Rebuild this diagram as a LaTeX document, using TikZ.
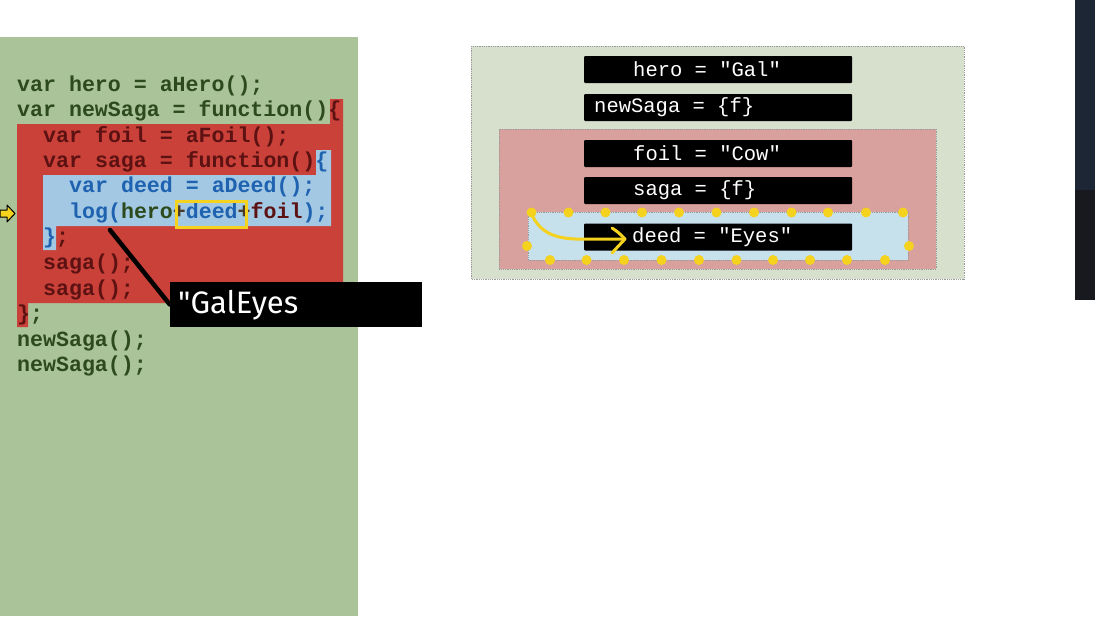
\documentclass[tikz,border=0pt]{standalone}
\usepackage{fontspec}
\setmonofont{Liberation Mono}
\newfontfamily\handfont{Fira Sans}
\definecolor{panelgreen}{HTML}{AAC398}
\definecolor{scopered}{HTML}{CA4139}
\definecolor{scopeblue}{HTML}{A2C8E4}
\definecolor{txtgreen}{HTML}{2C4A1C}
\definecolor{txtred}{HTML}{5C1212}
\definecolor{txtblue}{HTML}{1E62B0}
\definecolor{txtplus}{HTML}{4A3A28}
\definecolor{memgreen}{HTML}{D6E0CC}
\definecolor{mempink}{HTML}{D9A19D}
\definecolor{memblue}{HTML}{C6E0EC}
\definecolor{hilite}{HTML}{F4D21E}
\definecolor{frame}{HTML}{9A9A9A}
\definecolor{sidedark}{HTML}{1C2634}
\definecolor{sidedarker}{HTML}{17191F}
\newcommand\codefont{\fontsize{21.6}{24}\selectfont\ttfamily\bfseries}
\newcommand\barfont{\fontsize{20.5}{24}\selectfont\ttfamily}
\tikzset{
  codeline/.style={anchor=west, inner sep=0pt, font=\codefont},
  membar/.style={fill=black, rounded corners=1pt, minimum width=268pt, minimum height=27pt, inner sep=0pt},
  bartext/.style={anchor=west, inner sep=0pt, text=white, font=\barfont},
  memframe/.style={draw=frame, densely dotted, line width=0.8pt},
  handle/.style={fill=hilite, circle, inner sep=0pt, minimum size=10pt},
}
\begin{document}
\begin{tikzpicture}[x=1pt, y=-1pt]
\useasboundingbox (0,0) rectangle (1095,616);
\fill[white] (0,0) rectangle (1095,616);

% code panel
\fill[panelgreen] (0,37) rectangle (358,616);
% outer function scope (newSaga)
\fill[scopered] (330,99) -- (343,99) -- (343,303) -- (28,303) -- (28,327)
  -- (17,327) -- (17,124) -- (330,124) -- cycle;
% inner function scope (saga)
\fill[scopeblue] (316,150) -- (331,150) -- (331,226) -- (56,226) -- (56,250)
  -- (43,250) -- (43,175) -- (316,175) -- cycle;

% source code
\node[codeline] (l1) at (17,86) {\textcolor{txtgreen}{var hero = aHero();}};
\node[codeline] (l2) at (17,111) {\textcolor{txtgreen}{var newSaga = function()}\textcolor{txtred}{\{}};
\node[codeline] (l3) at (43,137) {\textcolor{txtred}{var foil = aFoil();}};
\node[codeline] (l4) at (43,162) {\textcolor{txtred}{var saga = function()}\textcolor{txtblue}{\{}};
\node[codeline] (l5) at (69,187) {\textcolor{txtblue}{var deed = aDeed();}};
\node[codeline] (l6) at (69,213) {\textcolor{txtblue}{log(}\textcolor{txtgreen}{hero}\textcolor{txtplus}{+}\textcolor{txtblue}{deed}\textcolor{txtplus}{+}\textcolor{txtred}{foil}\textcolor{txtblue}{);}};
\node[codeline] (l7) at (43,238) {\textcolor{txtblue}{\}}\textcolor{txtred}{;}};
\node[codeline] (l8) at (43,264) {\textcolor{txtred}{saga();}};
\node[codeline] (l9) at (43,290) {\textcolor{txtred}{saga();}};
\node[codeline] (l10) at (17,315) {\textcolor{txtred}{\}}\textcolor{txtgreen}{;}};
\node[codeline] (l11) at (17,341) {\textcolor{txtgreen}{newSaga();}};
\node[codeline] (l12) at (17,366) {\textcolor{txtgreen}{newSaga();}};

% highlight around the looked-up name
\draw[hilite, line width=3pt] (176,201) rectangle (246,227);

% current line marker
\filldraw[fill=hilite, draw=black, line width=1pt, line join=round]
  (0,210) -- (7,210) -- (7,205) -- (15,213.5) -- (7,222) -- (7,217) -- (0,217) -- cycle;

% console output callout
\coordinate (ptr) at (110,230);
\node[fill=black, minimum width=252pt, minimum height=45pt, inner sep=0pt] (out) at (296,304.5) {};
\draw[black, line width=4.5pt, line cap=round] (ptr) -- (out.west);
\node[fill=black, minimum width=252pt, minimum height=45pt, inner sep=0pt] at (out) {};
\node[anchor=west, inner sep=0pt, text=white, font=\handfont\fontsize{31}{34}\selectfont] (outtxt) at (178,305) {"GalEyes};

% memory: global scope
\fill[memgreen] (471,46) rectangle (964,279);
\draw[memframe] (471,46) rectangle (964,279);
\node[membar] (hero) at (718,69.5) {};
\node[bartext] (herot) at (633,69.5) {hero = "Gal"};
\node[membar] (newsaga) at (718,107.5) {};
\node[bartext] (newsagat) at (594,107.5) {newSaga = \{f\}};

% memory: newSaga scope
\fill[mempink] (499,129) rectangle (936,269);
\draw[memframe] (499,129) rectangle (936,269);
\node[membar] (foil) at (718,153.5) {};
\node[bartext] (foilt) at (633,153.5) {foil = "Cow"};
\node[membar] (saga) at (718,190.5) {};
\node[bartext] (sagat) at (633,190.5) {saga = \{f\}};

% memory: saga scope
\fill[memblue] (528,212) rectangle (908,260);
\draw[memframe] (528,212) rectangle (908,260);
\node[membar] (deed) at (718,237) {};
\node[bartext] (deedt) at (632,237) {deed = "Eyes"};

% selection handles around the saga scope
\foreach \x in {531.5,568.5,605.5,642,679,716.5,754,791.5,828,866,903}
  \node[handle] at (\x,212.5) {};
\foreach \x in {550,586.5,624,661.5,699,736.5,773,810,847,885}
  \node[handle] at (\x,260) {};
\node[handle] at (527,246) {};
\node[handle] at (909,246) {};

% hand-drawn lookup arrow
\coordinate (start) at (532,215);
\coordinate (tip) at (625,239);
\draw[hilite, line width=3pt, line cap=round, line join=round]
  (start) .. controls (542,236) and (560,240) .. (590,239) -- (tip);
\draw[hilite, line width=3pt, line cap=round, line join=round]
  (612,228) .. controls (618,232) .. (tip) .. controls (618,246) .. (612,253);

% side panel
\fill[sidedark] (1075,0) rectangle (1095,190);
\fill[sidedarker] (1075,190) rectangle (1095,300);
\end{tikzpicture}
\end{document}
